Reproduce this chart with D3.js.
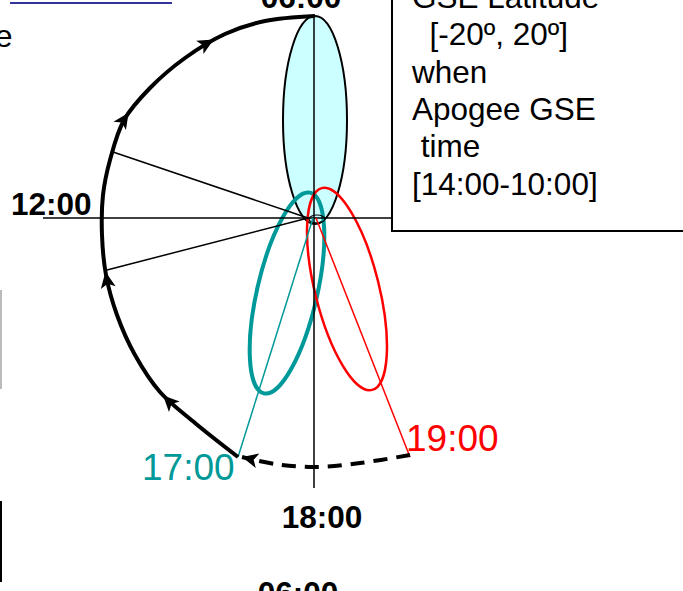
<!DOCTYPE html>
<html><head><meta charset="utf-8">
<script src="https://cdn.jsdelivr.net/npm/d3@7"></script>
<style>html,body{margin:0;padding:0;background:#fff;overflow:hidden}svg{display:block}</style>
</head><body>
<svg id="c" width="683" height="591"></svg>
<script>
// ---- data (diagram units, origin = Earth at axes crossing) ----
const orbitSolid = [[-7.6,-23.9],[-11.9,-20.5],[-15.4,-17.4],[-17.9,-13.7],[-19.7,-9.7],[-20.8,-5.7],[-21.2,-1.7],[-21.1,2.3],[-20.4,5.8],[-19.0,9.8],[-16.4,13.0],[-12.9,16.0],[-8.9,18.4],[-4.9,19.7],[0.1,20.2]];
const orbitDashed = [[9.6,-23.7],[4.6,-24.5],[0.1,-24.9],[-3.9,-24.6],[-7.2,-23.9]];
const arrowTips = [[-15.1,-17.7],[-20.9,-5.4],[-18.7,10.6],[-10.1,18.0]];
const spokes = [
  {from:[-20.1,6.6], to:[-0.6,0], color:"#000"},
  {from:[-20.7,-5.2], to:[-0.6,0], color:"#000"},
  {from:[-7.6,-23.9], to:[-0.1,0], color:"#009999"},
  {from:[9.6,-23.9], to:[0.2,0], color:"#ff0000"}
];
const ellipses = [
  {name:"apogee06", c:[0.1,9.8], rx:3.2, ry:10.4, rot:0, stroke:"#000", fill:"#ccffff", w:2},
  {name:"apogee17", c:[-2.7,-7.5], rx:3.0, ry:10.3, rot:13, stroke:"#009999", fill:"none", w:4},
  {name:"apogee19", c:[3.3,-7.1], rx:3.2, ry:10.4, rot:-14, stroke:"#ff0000", fill:"none", w:2.5}
];
const axisH = [[-27.1,0],[7.8,0]];
const axisV = [[0,20.3],[0,-27.0]];
const timeLabels = [
  {t:"06:00", p:[-1.3,21.0], anchor:"middle", color:"#000", bold:true, size:31.5},
  {t:"12:00", p:[-30.3,0.3], anchor:"start", color:"#000", bold:true, size:31.5},
  {t:"18:00", p:[0.8,-31.0], anchor:"middle", color:"#000", bold:true, size:31.5},
  {t:"06:00", p:[-1.6,-38.6], anchor:"middle", color:"#000", bold:true, size:31.5},
  {t:"17:00", p:[-17.2,-26.2], anchor:"start", color:"#009999", bold:false, size:37},
  {t:"19:00", p:[9.2,-23.3], anchor:"start", color:"#ff0000", bold:false, size:37}
];
const boxLines = ["GSE Latitude","\u00a0\u00a0[-20º, 20º]","when","Apogee GSE","\u00a0time","[14:00-10:00]"];

// ---- scales ----
const x = d3.scaleLinear().domain([-31.4, 36.9]).range([0, 683]);
const y = d3.scaleLinear().domain([21.8, -37.3]).range([0, 591]);
const kx = Math.abs(x(1) - x(0)), ky = Math.abs(y(1) - y(0));
const svg = d3.select("#c");
const font = "'Liberation Sans', Arial, sans-serif";

// slide fragments at edges
svg.append("line").attr("x1",10).attr("x2",172).attr("y1",3).attr("y2",3).attr("stroke","#333399").attr("stroke-width",2);
svg.append("text").attr("x",-5).attr("y",47).attr("font-family",font).attr("font-size",31.5).text("e");
svg.append("line").attr("x1",1).attr("x2",1).attr("y1",290).attr("y2",389).attr("stroke","#bbb").attr("stroke-width",2);
svg.append("line").attr("x1",1).attr("x2",1).attr("y1",501).attr("y2",582).attr("stroke","#000").attr("stroke-width",2);

// blue ellipse (under axes)
const ell = svg.append("g");
function drawEllipse(e){
  ell.append("ellipse")
    .attr("transform",`translate(${x(e.c[0])},${y(e.c[1])}) rotate(${e.rot})`)
    .attr("rx", e.rx*kx).attr("ry", e.ry*ky)
    .attr("fill", e.fill).attr("stroke", e.stroke).attr("stroke-width", e.w);
}
drawEllipse(ellipses[0]);

// axes
const line = d3.line().x(d=>x(d[0])).y(d=>y(d[1]));
svg.append("path").attr("d",line(axisH)).attr("stroke","#000").attr("stroke-width",1.5).attr("fill","none");
svg.append("path").attr("d",line(axisV)).attr("stroke","#000").attr("stroke-width",1.5).attr("fill","none");

// small Earth marker near origin
svg.append("ellipse").attr("cx",x(0.3)).attr("cy",y(-0.1)).attr("rx",0.8*kx).attr("ry",0.4*ky)
  .attr("fill","none").attr("stroke","#000").attr("stroke-width",1.2);

// spokes
spokes.forEach(s=>{
  svg.append("path").attr("d",line([s.from,s.to])).attr("stroke",s.color).attr("stroke-width",1.5).attr("fill","none");
});

// tilted ellipses
drawEllipse(ellipses[1]);
drawEllipse(ellipses[2]);

// orbit
const curve = d3.line().x(d=>x(d[0])).y(d=>y(d[1])).curve(d3.curveCatmullRom.alpha(0.5));
const solid = svg.append("path").attr("d",curve(orbitSolid)).attr("stroke","#000").attr("stroke-width",4).attr("fill","none");
const dashed = svg.append("path").attr("d",curve(orbitDashed)).attr("stroke","#000").attr("stroke-width",4)
  .attr("stroke-dasharray","14,9").attr("fill","none");

function arrowHead(px,py,ang){
  const L=16, W=7.5;
  const pts=[[0,0],[-L,-W],[-L*0.75,0],[-L,W]];
  svg.append("path").attr("d","M"+pts.map(p=>p.join(",")).join("L")+"Z")
    .attr("transform",`translate(${px},${py}) rotate(${ang*180/Math.PI})`).attr("fill","#000");
}
const sNode = solid.node(), sLen = sNode.getTotalLength();
arrowTips.forEach(t=>{
  const tx=x(t[0]), ty=y(t[1]);
  let best=0, bd=1e9;
  for(let l=0;l<=sLen;l+=1){const p=sNode.getPointAtLength(l);const d=(p.x-tx)**2+(p.y-ty)**2;if(d<bd){bd=d;best=l;}}
  const p=sNode.getPointAtLength(best), q=sNode.getPointAtLength(Math.max(0,best-3));
  arrowHead(p.x,p.y,Math.atan2(p.y-q.y,p.x-q.x));
});
const dNode = dashed.node(), dLen=dNode.getTotalLength();
{const p=dNode.getPointAtLength(dLen), q=dNode.getPointAtLength(dLen-4); arrowHead(p.x,p.y,Math.atan2(p.y-q.y,p.x-q.x));}

// time labels
timeLabels.forEach(l=>{
  svg.append("text").attr("x",x(l.p[0])).attr("y",y(l.p[1])).attr("text-anchor",l.anchor)
    .attr("font-family",font).attr("font-size",l.size).attr("font-weight",l.bold?"bold":"normal")
    .attr("fill",l.color).text(l.t);
});

// text box
svg.append("rect").attr("x",392).attr("y",-20).attr("width",320).attr("height",251)
  .attr("fill","#fff").attr("stroke","#000").attr("stroke-width",2);
boxLines.forEach((t,i)=>{
  svg.append("text").attr("x",412).attr("y",8+i*37.3).attr("font-family",font).attr("font-size",31.5)
    .attr("xml:space","preserve").text(t);
});
</script>
</body></html>
